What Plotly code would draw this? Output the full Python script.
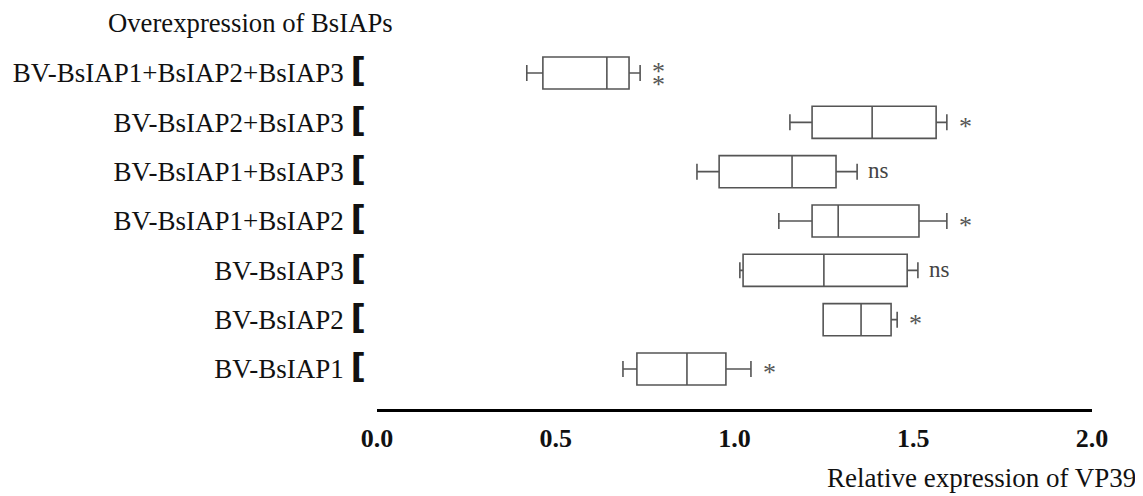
import plotly.graph_objects as go

# Data (bottom to top)
groups = ["BV-BsIAP1", "BV-BsIAP2", "BV-BsIAP3", "BV-BsIAP1+BsIAP2",
          "BV-BsIAP1+BsIAP3", "BV-BsIAP2+BsIAP3", "BV-BsIAP1+BsIAP2+BsIAP3"]
lower = [0.688, 1.248, 1.015, 1.124, 0.895, 1.155, 0.419]
q1 = [0.727, 1.248, 1.024, 1.217, 0.957, 1.217, 0.464]
median = [0.867, 1.354, 1.250, 1.290, 1.161, 1.385, 0.643]
q3 = [0.976, 1.438, 1.483, 1.516, 1.284, 1.564, 0.705]
upper = [1.046, 1.455, 1.513, 1.594, 1.343, 1.594, 0.736]
signif = ["*", "*", "ns", "*", "ns", "*", "**"]
x_ticks = [0.0, 0.5, 1.0, 1.5, 2.0]
x_tick_labels = ["0.0", "0.5", "1.0", "1.5", "2.0"]

serif = "Liberation Serif, Times New Roman, serif"
bracket = ' <span style="font-family:DejaVu Sans;font-weight:bold;font-size:34px;fill:#111111">[</span>'

fig = go.Figure()
fig.add_trace(go.Box(
    y=groups, q1=q1, median=median, q3=q3,
    lowerfence=lower, upperfence=upper,
    orientation="h", width=0.65, whiskerwidth=0.5,
    fillcolor="white", line=dict(color="#555555", width=1.6),
    boxpoints=False, showlegend=False, hoverinfo="skip",
))

star_font = dict(family=serif, size=26, color="#555555")
for g, u, s in zip(groups, upper, signif):
    if s == "ns":
        fig.add_annotation(x=u, y=g, text=s, showarrow=False, xanchor="left",
                           xshift=9, yshift=1, font=dict(family=serif, size=23, color="#444444"))
    elif s == "**":
        for ys in (2, -11):
            fig.add_annotation(x=u, y=g, text="*", showarrow=False, xanchor="left",
                               xshift=10, yshift=ys, font=star_font)
    else:
        fig.add_annotation(x=u, y=g, text=s, showarrow=False, xanchor="left",
                           xshift=10, yshift=-4, font=star_font)

fig.add_annotation(xref="paper", yref="paper", x=0, y=1, xanchor="left", yanchor="middle",
                   xshift=-271, yshift=25, text="Overexpression of BsIAPs", showarrow=False,
                   font=dict(family=serif, size=26.7, color="#111111"))
fig.add_annotation(xref="paper", yref="paper", x=1, y=0, xanchor="right", yanchor="middle",
                   xshift=46, yshift=-69, text="Relative expression of VP39", showarrow=False,
                   font=dict(family=serif, size=27, color="#111111"))

fig.update_layout(
    width=1135, height=488,
    margin=dict(l=369, r=51, t=40, b=87, autoexpand=False),
    paper_bgcolor="white", plot_bgcolor="white",
)
fig.update_xaxes(
    range=[0, 2], tickvals=x_ticks, ticktext=x_tick_labels, automargin=False,
    showline=True, linecolor="black", linewidth=3, showgrid=False, zeroline=False,
    ticks="", tickfont=dict(family=serif, size=26, color="#111111", weight="bold"),
    ticklabelstandoff=4,
)
fig.update_yaxes(
    type="category", categoryorder="array", categoryarray=groups, automargin=False,
    tickvals=groups, ticktext=[g + bracket for g in groups],
    range=[-0.811, 6.507], showline=False, showgrid=False, zeroline=False, ticks="",
    tickfont=dict(family=serif, size=27, color="#111111"), ticklabelstandoff=10,
)

fig.write_html("out.html")
